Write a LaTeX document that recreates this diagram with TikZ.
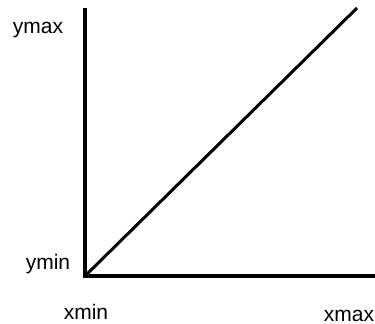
\documentclass[tikz,border=0pt]{standalone}
\usepackage{fontspec}
\setmainfont{Liberation Sans}
\usetikzlibrary{positioning}
\tikzset{
  axis line/.style={draw=black,line width=1.6pt,line cap=rect},
  ramp line/.style={draw=black,line width=1.5pt},
  bound label/.style={inner sep=0pt,font=\fontsize{10.5}{12}\selectfont}
}

\begin{document}
\begin{tikzpicture}[x=0.5pt,y=0.5pt]
    \useasboundingbox (0,0) rectangle (375,323);
    \coordinate (orig) at (85,47);
    \coordinate (ytop) at (85,313);
    \coordinate (xend) at (376,47);
    \coordinate (rampEnd) at (357,315);
    \node[bound label] (ymaxLbl) at (38,293) {ymax};
    \node[bound label] (yminLbl) at (48,59) {ymin};
    \node[bound label] (xminLbl) at (86,11) {xmin};
    \node[bound label] (xmaxLbl) at (349,7) {xmax};
    \draw[axis line] (ytop) -- (orig) -- (xend);
    \draw[ramp line] (orig) -- (rampEnd);
  \end{tikzpicture}
\end{document}
